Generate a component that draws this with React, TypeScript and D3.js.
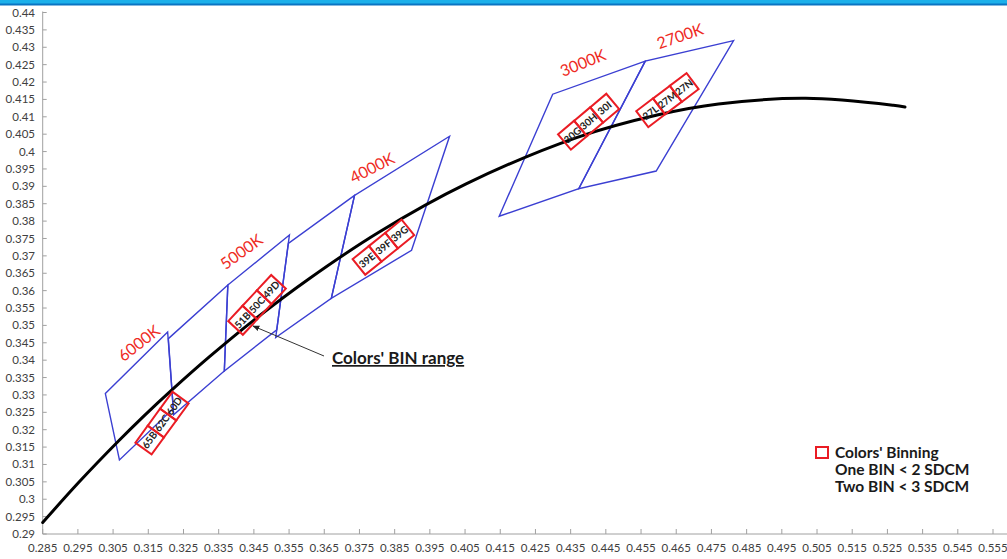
import React from "react";
import * as d3 from "d3";

// ---- Data ----
const xTicks = [0.285, 0.295, 0.305, 0.315, 0.325, 0.335, 0.345, 0.355, 0.365, 0.375, 0.385, 0.395, 0.405, 0.415, 0.425, 0.435, 0.445, 0.455, 0.465, 0.475, 0.485, 0.495, 0.505, 0.515, 0.525, 0.535, 0.545, 0.555];
const yTicks = [0.29, 0.295, 0.3, 0.305, 0.31, 0.315, 0.32, 0.325, 0.33, 0.335, 0.34, 0.345, 0.35, 0.355, 0.36, 0.365, 0.37, 0.375, 0.38, 0.385, 0.39, 0.395, 0.4, 0.405, 0.41, 0.415, 0.42, 0.425, 0.43, 0.435, 0.44];

// Black-body (Planckian) locus
const locusX = [0.285, 0.2952, 0.3064, 0.3135, 0.3221, 0.3324, 0.3451, 0.3608, 0.3805, 0.4053, 0.4369, 0.4599, 0.477, 0.5018, 0.5267, 0.53];
const locusY = [0.2933, 0.3048, 0.3166, 0.3237, 0.3318, 0.341, 0.3516, 0.3635, 0.3768, 0.3907, 0.4041, 0.4106, 0.4137, 0.4153, 0.4133, 0.4128];

// Blue quadrangles (corner chromaticities)
const quadNames = ["6500K", "5700K", "5000K", "4500K", "4000K", "3000K", "2700K"];
const quadX = [
  [0.3205, 0.3028, 0.3068, 0.3221],
  [0.3376, 0.3207, 0.3222, 0.3366],
  [0.3551, 0.3376, 0.3366, 0.3515],
  [0.3736, 0.3548, 0.3512, 0.367],
  [0.4006, 0.3736, 0.367, 0.3898],
  [0.4562, 0.4299, 0.4147, 0.4373],
  [0.4813, 0.4562, 0.4373, 0.4593],
];
const quadY = [
  [0.3481, 0.3304, 0.3113, 0.3261],
  [0.3616, 0.3462, 0.3243, 0.3369],
  [0.376, 0.3616, 0.3369, 0.3487],
  [0.3874, 0.3736, 0.3465, 0.3578],
  [0.4044, 0.3874, 0.3578, 0.3716],
  [0.426, 0.4165, 0.3814, 0.3893],
  [0.4319, 0.426, 0.3893, 0.3944],
];

// CCT labels
const cctLabels = ["6000K", "5000K", "4000K", "3000K", "2700K"];
const cctX = [0.3124, 0.3415, 0.3786, 0.4385, 0.4661];
const cctY = [0.3449, 0.3712, 0.3953, 0.4255, 0.4332];
const cctAngle = [-38, -36, -27, -22, -19];

// Bin groups (red boxes)
const binCodes = [
  ["65B", "62C", "60D"],
  ["51B", "50C", "49D"],
  ["39E", "39F", "39G"],
  ["30G", "30H", "30I"],
  ["27L", "27M", "27N"],
];
const binX = [0.3189, 0.3459, 0.3818, 0.4401, 0.4625];
const binY = [0.3219, 0.3559, 0.3725, 0.4086, 0.4148];
const binAngle = [-54, -47, -39, -40, -37];

const legendLines = ["Colors' Binning", "One BIN < 2 SDCM", "Two BIN < 3 SDCM"];
const annotationText = "Colors' BIN range";

const W = 1007;
const H = 559;
const FONT = "Lato, 'Open Sans', sans-serif";

export default function App() {
  const x = d3.scaleLinear().domain([0.285, 0.555]).range([42.7, 993]);
  const y = d3.scaleLinear().domain([0.29, 0.44]).range([534, 12.5]);
  const fmt = (v: number) => String(+v.toFixed(3));

  const locusPts: [number, number][] = locusX.map((v, i) => [x(v), y(locusY[i])]);
  const line = d3.line().curve(d3.curveCatmullRom.alpha(0.5));
  const locusPath = line(locusPts) || "";

  const boxW = 21;
  const boxH = 20;

  return (
    <div style={{ position: "absolute", left: 0, top: 0 }}>
      <svg width={W} height={H} style={{ display: "block", background: "#fff" }}>
        {/* top frame band */}
        <rect x={0} y={0} width={W} height={4} fill="#1cb0ea" />
        <rect x={0} y={3.5} width={W} height={2} fill="#0a74c2" />

        {/* axes */}
        <line x1={x(0.285)} y1={y(0.44) - 1} x2={x(0.285)} y2={y(0.29)} stroke="#a0a0a0" strokeWidth={1} />
        <line x1={x(0.285)} y1={y(0.29)} x2={W} y2={y(0.29)} stroke="#a0a0a0" strokeWidth={1} />
        {yTicks.map((t) => (
          <g key={"y" + t}>
            <line x1={x(0.285)} x2={x(0.285) + 4} y1={y(t)} y2={y(t)} stroke="#a0a0a0" />
            <text x={35} y={y(t)} dy="0.35em" textAnchor="end" fontSize={11.5} fill="#404040" fontFamily={FONT}>
              {fmt(t)}
            </text>
          </g>
        ))}
        {xTicks.map((t) => (
          <g key={"x" + t}>
            <line x1={x(t)} x2={x(t)} y1={y(0.29)} y2={y(0.29) - 5} stroke="#a0a0a0" />
            <text x={x(t)} y={552} textAnchor="middle" fontSize={11.5} fill="#404040" fontFamily={FONT}>
              {fmt(t)}
            </text>
          </g>
        ))}

        {/* quadrangles */}
        {quadNames.map((n, i) => {
          const pts = quadX[i].map((v, j) => `${x(v)},${y(quadY[i][j])}`).join(" ");
          return <polygon key={n} points={pts} fill="none" stroke="#3b3fd2" strokeWidth={1.4} />;
        })}

        {/* locus */}
        <path d={locusPath} fill="none" stroke="#000" strokeWidth={3} strokeLinecap="round" />

        {/* CCT labels */}
        {cctLabels.map((l, i) => (
          <text
            key={l}
            transform={`translate(${x(cctX[i])},${y(cctY[i])}) rotate(${cctAngle[i]})`}
            textAnchor="middle"
            dy="0.35em"
            fontSize={16}
            fill="#ee2a24"
            fontFamily={FONT}
          >
            {l}
          </text>
        ))}

        {/* bin boxes */}
        {binCodes.map((codes, i) => (
          <g key={"bin" + i} transform={`translate(${x(binX[i])},${y(binY[i])}) rotate(${binAngle[i]})`}>
            {codes.map((c, k) => {
              const off = (k - 1) * boxW;
              return (
                <g key={c} transform={`translate(${off},0)`}>
                  <rect x={-boxW / 2} y={-boxH / 2} width={boxW} height={boxH} fill="none" stroke="#ea1c24" strokeWidth={2} />
                  <text textAnchor="middle" dy="0.35em" fontSize={10} fontWeight="bold" fill="#222" fontFamily={FONT}>
                    {c}
                  </text>
                </g>
              );
            })}
          </g>
        ))}

        {/* annotation */}
        <defs>
          <marker id="arrowHead" viewBox="0 0 10 10" refX="9" refY="5" markerWidth="7" markerHeight="7" orient="auto-start-reverse">
            <path d="M0,1 L10,5 L0,9 z" fill="#222" />
          </marker>
        </defs>
        <line x1={324} y1={356} x2={253} y2={326} stroke="#333" strokeWidth={1} markerEnd="url(#arrowHead)" />
        <text x={332} y={364} fontSize={17} fontWeight="bold" fill="#1a1a1a" fontFamily={FONT} textDecoration="underline">
          {annotationText}
        </text>

        {/* legend */}
        <rect x={816} y={447} width={12} height={11} fill="none" stroke="#ea1c24" strokeWidth={2} />
        {legendLines.map((l, i) => (
          <text key={l} x={835} y={458 + i * 17} fontSize={15.5} fontWeight="bold" fill="#1a1a1a" fontFamily={FONT}>
            {l}
          </text>
        ))}
      </svg>
    </div>
  );
}
